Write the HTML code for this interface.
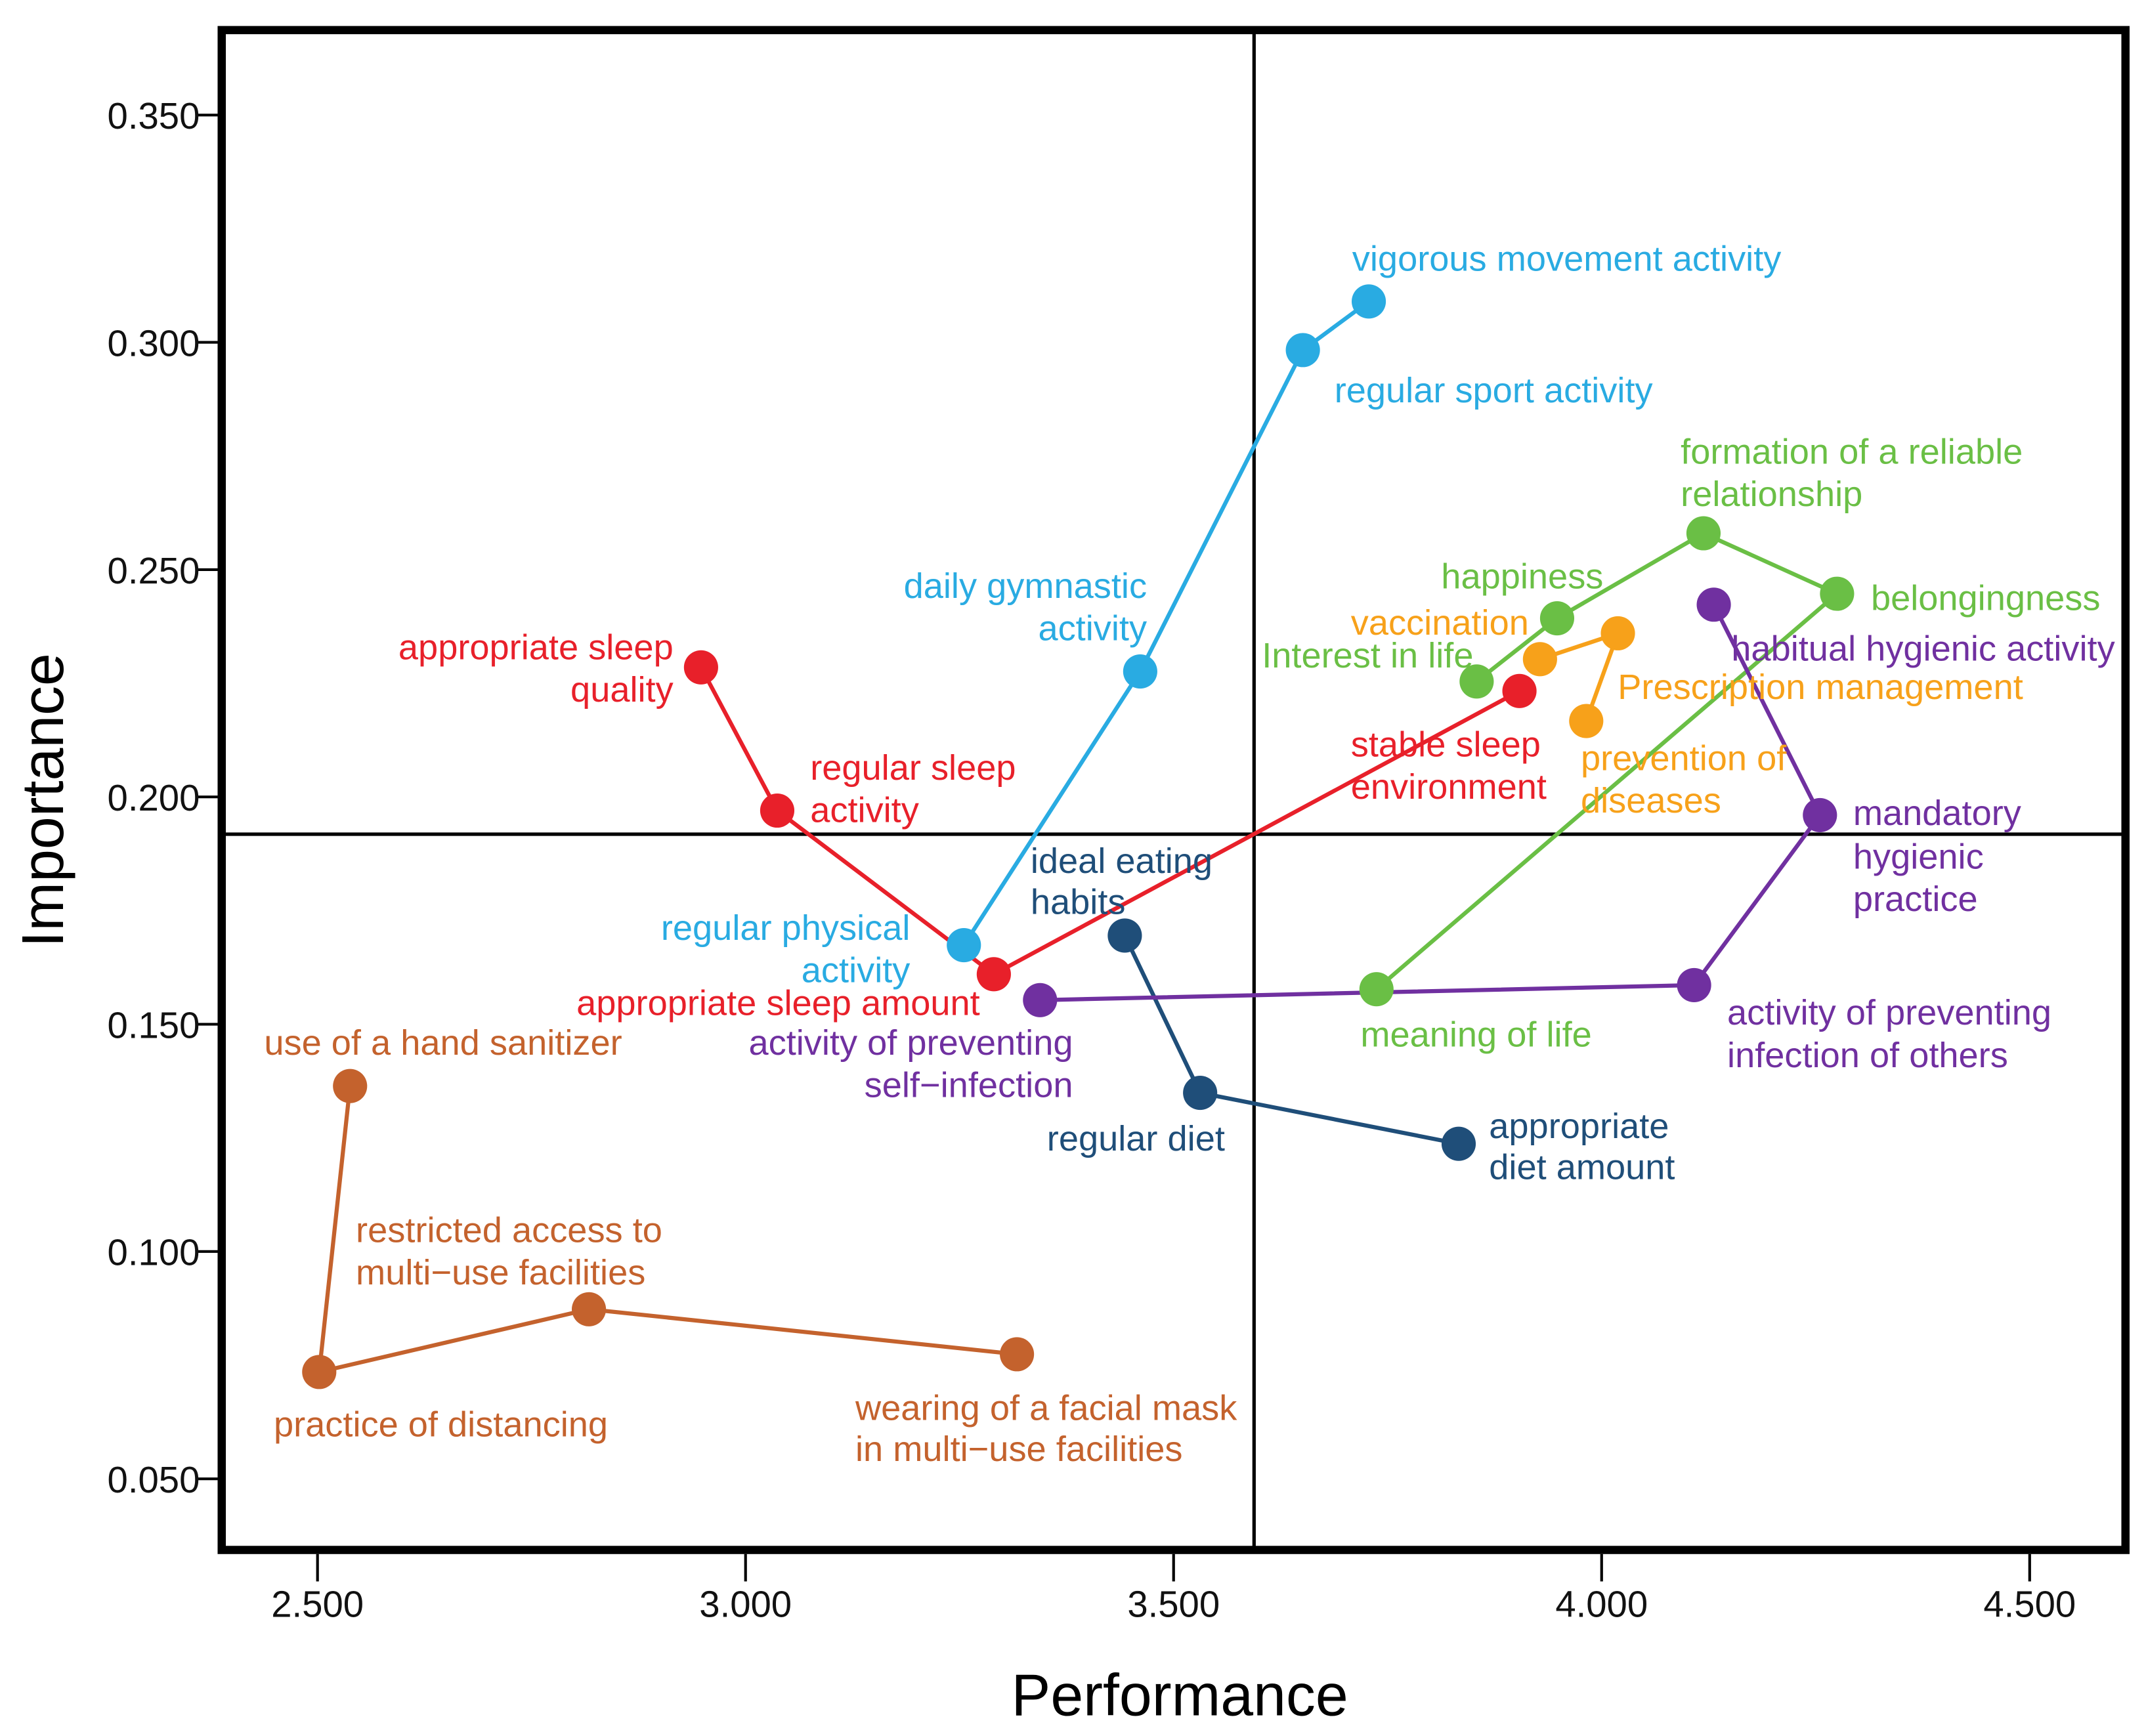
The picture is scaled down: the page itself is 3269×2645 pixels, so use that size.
<!DOCTYPE html>
<html><head><meta charset="utf-8"><style>
html,body{margin:0;padding:0;background:#fff;}
svg{display:block;}
text{font-family:"Liberation Sans",sans-serif;}
</style></head><body>
<svg id="chart" width="3269" height="2645" viewBox="0 0 1568 1269" preserveAspectRatio="none" xmlns="http://www.w3.org/2000/svg">
<g id="grid"></g>
<g id="series"></g>
<g id="labels"></g>
</svg>
<script>
const NS='http://www.w3.org/2000/svg';
const xTicks=[2.5,3.0,3.5,4.0,4.5];
const xTickLabels=['2.500','3.000','3.500','4.000','4.500'];
const yTicks=[0.05,0.10,0.15,0.20,0.25,0.30,0.35];
const yTickLabels=['0.050','0.100','0.150','0.200','0.250','0.300','0.350'];
const refX=3.594;
const refY=0.1918;

const sleepX=[2.948,3.037,3.290,3.904];
const sleepY=[0.2285,0.197,0.161,0.2233];
const exerciseX=[3.255,3.461,3.651,3.728];
const exerciseY=[0.1674,0.2276,0.2983,0.309];
const dietX=[3.443,3.531,3.833];
const dietY=[0.1695,0.1349,0.1237];
const distX=[2.538,2.502,2.817,3.317];
const distY=[0.1364,0.0735,0.0873,0.0774];
const mentalX=[3.854,3.948,4.119,4.275,3.737];
const mentalY=[0.2254,0.2393,0.258,0.2447,0.1577];
const medX=[3.928,4.019,3.982];
const medY=[0.2303,0.236,0.2167];
const hygX=[4.131,4.255,4.108,3.344];
const hygY=[0.2423,0.196,0.1586,0.1553];

const series=[
 {name:'sleep',color:'#e8202a',xs:sleepX,ys:sleepY},
 {name:'exercise',color:'#29abe2',xs:exerciseX,ys:exerciseY},
 {name:'diet',color:'#1f4e79',xs:dietX,ys:dietY},
 {name:'distancing',color:'#c4622d',xs:distX,ys:distY},
 {name:'mental',color:'#6abf45',xs:mentalX,ys:mentalY},
 {name:'medical',color:'#f7a11a',xs:medX,ys:medY},
 {name:'hygiene',color:'#7030a0',xs:hygX,ys:hygY}
];

const X=v=>232+(v-2.5)*625.5;
const Y=v=>1081-(v-0.05)*3323;

function mk(tag,attrs,parent){const e=document.createElementNS(NS,tag);for(const k in attrs)e.setAttribute(k,attrs[k]);parent.appendChild(e);return e;}
const grid=document.getElementById('grid');
const sg=document.getElementById('series');
const lg=document.getElementById('labels');

let rl=mk('line',{x1:X(refX),x2:X(refX),y1:24,y2:1133,stroke:'#000','stroke-width':2.5},grid);


rl=mk('line',{x1:162,x2:1553,y1:Y(refY),y2:Y(refY),stroke:'#000','stroke-width':2.5},grid);


let fr=mk('rect',{x:162,y:22,width:1391,height:1111,fill:'none',stroke:'#000','stroke-width':6},grid);



xTicks.forEach((v,i)=>{
 const t=mk('line',{x1:X(v),x2:X(v),y1:1136,y2:1156,stroke:'#000','stroke-width':2},grid);
 
 
 const l=mk('text',{x:X(v),y:1182,'font-size':27,'text-anchor':'middle',fill:'#111'},grid);
 l.textContent=xTickLabels[i];
 
 
});
yTicks.forEach((v,i)=>{
 const t=mk('line',{x1:144,x2:159,y1:Y(v),y2:Y(v),stroke:'#000','stroke-width':2},grid);
 
 
 const l=mk('text',{x:146,y:Y(v)+10,'font-size':27,'text-anchor':'end',fill:'#111'},grid);
 l.textContent=yTickLabels[i];
 
 
});
let at=mk('text',{x:862,y:1254,'font-size':43,'text-anchor':'middle',fill:'#000'},grid);
at.textContent='Performance';


at=mk('text',{x:0,y:0,'font-size':43,'text-anchor':'middle',fill:'#000',transform:'translate(46,585) rotate(-90)'},grid);
at.textContent='Importance';



series.forEach(s=>{
 const pts=s.xs.map((x,i)=>X(x)+','+Y(s.ys[i])).join(' ');
 const pl=mk('polyline',{points:pts,fill:'none',stroke:s.color,'stroke-width':3},sg);
 
 
});
series.forEach(s=>{
 s.xs.forEach((x,i)=>{
  const c=mk('circle',{cx:X(x),cy:Y(s.ys[i]),r:12.5,fill:s.color},sg);
  
  
 });
});

const labels=[
 ['#29abe2','start',988,[[189,'vigorous movement activity']]],
 ['#29abe2','start',975,[[285,'regular sport activity']]],
 ['#29abe2','end',838,[[428,'daily gymnastic'],[459,'activity']]],
 ['#e8202a','end',492,[[473,'appropriate sleep'],[504,'quality']]],
 ['#e8202a','start',592,[[561,'regular sleep'],[592,'activity']]],
 ['#29abe2','end',665,[[678,'regular physical'],[709,'activity']]],
 ['#e8202a','end',716,[[733,'appropriate sleep amount']]],
 ['#7030a0','end',784,[[762,'activity of preventing'],[793,'self\u2212infection']]],
 ['#1f4e79','start',753,[[629,'ideal eating'],[659,'habits']]],
 ['#1f4e79','end',895,[[832,'regular diet']]],
 ['#1f4e79','start',1088,[[823,'appropriate'],[853,'diet amount']]],
 ['#c4622d','start',193,[[762,'use of a hand sanitizer']]],
 ['#c4622d','start',260,[[899,'restricted access to'],[930,'multi\u2212use facilities']]],
 ['#c4622d','start',200,[[1041,'practice of distancing']]],
 ['#c4622d','start',625,[[1029,'wearing of a facial mask'],[1059,'in multi\u2212use facilities']]],
 ['#6abf45','start',1228,[[330,'formation of a reliable'],[361,'relationship']]],
 ['#6abf45','start',1053,[[421,'happiness']]],
 ['#6abf45','start',1367,[[437,'belongingness']]],
 ['#f7a11a','start',987,[[455,'vaccination']]],
 ['#6abf45','start',922,[[479,'Interest in life']]],
 ['#7030a0','start',1265,[[474,'habitual hygienic activity']]],
 ['#f7a11a','start',1182,[[502,'Prescription management']]],
 ['#e8202a','start',987,[[544,'stable sleep'],[575,'environment']]],
 ['#f7a11a','start',1155,[[554,'prevention of'],[585,'diseases']]],
 ['#7030a0','start',1354,[[594,'mandatory'],[626,'hygienic'],[657,'practice']]],
 ['#6abf45','start',994,[[756,'meaning of life']]],
 ['#7030a0','start',1262,[[740,'activity of preventing'],[771,'infection of others']]]
];
labels.forEach(L=>{
 L[3].forEach(r=>{
  const t=mk('text',{x:L[2],y:r[0]+9,'font-size':26,'text-anchor':L[1],fill:L[0]},lg);
  t.textContent=r[1];
  
  
 });
});
</script>
</body></html>
